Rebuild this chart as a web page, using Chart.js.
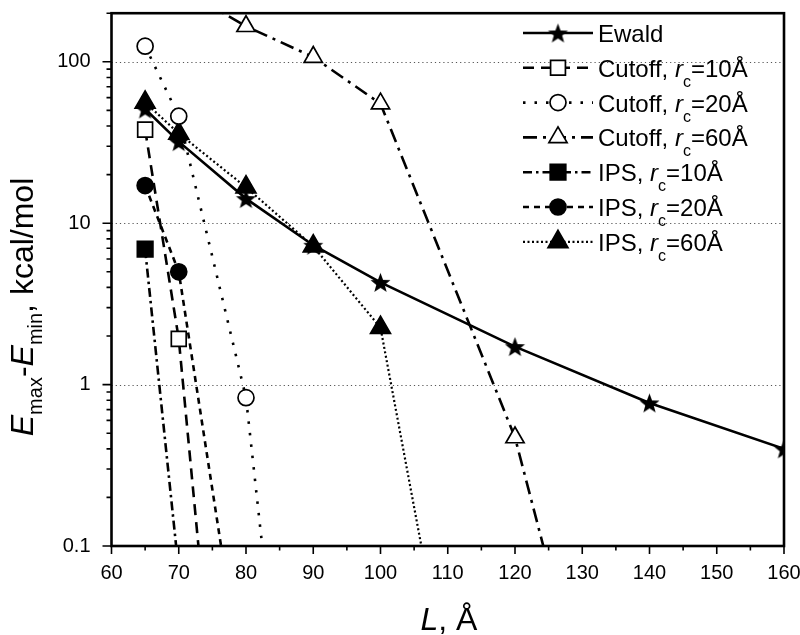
<!DOCTYPE html>
<html>
<head>
<meta charset="utf-8">
<script src="https://cdn.jsdelivr.net/npm/chart.js@4"></script>
<style>
  html, body { margin: 0; padding: 0; background: #fff; }
  #wrap { width: 800px; height: 635px; }
</style>
</head>
<body>
<div id="wrap"><canvas id="grafico" width="800" height="635"></canvas></div>
<script>
const FONTE = '"Liberation Sans", Arial, Helvetica, sans-serif';

/* ── Eixos ── */
const xTicks = [60, 70, 80, 90, 100, 110, 120, 130, 140, 150, 160];
const yTicks = [0.1, 1, 10, 100];

/* ── Séries (L em Å, Emax-Emin em kcal/mol) ── */
const ewaldL = [65, 70, 80, 90, 100, 120, 140, 160];
const ewaldE = [51, 32, 14.2, 7.3, 4.3, 1.72, 0.77, 0.40];

const cut10L = [65, 70, 80];
const cut10E = [38, 1.92, 0.00008];

const cut20L = [65, 70, 80, 90];
const cut20E = [125, 46, 0.83, 0.00013];

const cut60L = [70, 80, 90, 100, 120, 140];
const cut60E = [290, 166, 107, 55, 0.47, 0.0003];

const ips10L = [65, 70];
const ips10E = [6.9, 0.07];

const ips20L = [65, 70, 80];
const ips20E = [17.1, 5.0, 0.01];

const ips60L = [65, 70, 80, 90, 100, 120];
const ips60E = [56, 36, 16.7, 7.2, 2.25, 0.00008];

const nomes = ['Ewald', 'Cutoff', 'Cutoff', 'Cutoff', 'IPS', 'IPS', 'IPS'];
const raiosCorte = [null, '10', '20', '60', '10', '20', '60'];

function criarEstrela(r) {
  const c = document.createElement('canvas');
  const s = Math.ceil(r * 2 + 2);
  c.width = s; c.height = s;
  const g = c.getContext('2d');
  g.translate(s / 2, s / 2 + r * 0.1);
  g.beginPath();
  for (let i = 0; i < 10; i++) {
    const rr = i % 2 === 0 ? r : r * 0.42;
    const a = -Math.PI / 2 + i * Math.PI / 5;
    g.lineTo(rr * Math.cos(a), rr * Math.sin(a));
  }
  g.closePath();
  g.fillStyle = '#000';
  g.fill();
  return c;
}
const estrela = criarEstrela(10.5);

function serie(label, L, E, estilo, raio, cheio, dash, larg) {
  return {
    label,
    data: L.map((x, i) => ({ x, y: E[i] })),
    borderColor: '#000',
    borderWidth: larg,
    borderDash: dash,
    pointStyle: estilo,
    pointRadius: raio,
    pointHoverRadius: raio,
    pointBackgroundColor: cheio ? '#000' : '#fff',
    pointBorderColor: '#000',
    pointBorderWidth: 1.7,
    tension: 0,
    fill: false,
    clip: 0
  };
}

const datasets = [
  serie('Ewald', ewaldL, ewaldE, estrela, 10, true, [], 2.6),
  serie('Cutoff 10', cut10L, cut10E, 'rect', 10.5, false, [11, 7], 2.6),
  serie('Cutoff 20', cut20L, cut20E, 'circle', 8, false, [2.5, 9], 2.6),
  serie('Cutoff 60', cut60L, cut60E, 'triangle', 10.5, false, [14, 6, 3, 6], 2.6),
  serie('IPS 10', ips10L, ips10E, 'rect', 11, true, [9, 4, 2.5, 4], 2.6),
  serie('IPS 20', ips20L, ips20E, 'circle', 8, true, [6, 5], 2.6),
  serie('IPS 60', ips60L, ips60E, 'triangle', 11.5, true, [2, 2.5], 2.2)
];

/* ── Texto com itálico / subscrito ── */
function desenharPartes(ctx, partes, x, y, tam, tamSub, desloc) {
  let cx = x;
  for (const p of partes) {
    const t = p.sub ? tamSub : tam;
    ctx.font = (p.it ? 'italic ' : '') + t + 'px ' + FONTE;
    ctx.fillText(p.t, cx, y + (p.sub ? desloc : 0));
    cx += ctx.measureText(p.t).width;
  }
  return cx - x;
}
function larguraPartes(ctx, partes, tam, tamSub) {
  let w = 0;
  for (const p of partes) {
    ctx.font = (p.it ? 'italic ' : '') + (p.sub ? tamSub : tam) + 'px ' + FONTE;
    w += ctx.measureText(p.t).width;
  }
  return w;
}

function semPadding(s) {
  s.paddingTop = 0; s.paddingBottom = 0;
  s.paddingLeft = 0; s.paddingRight = 0;
}

const moldura = {
  id: 'moldura',
  beforeDatasetsDraw(chart) {
    const { ctx, chartArea: a, scales: { y } } = chart;
    ctx.save();
    ctx.strokeStyle = '#555';
    ctx.lineWidth = 1;
    ctx.setLineDash([1.2, 3]);
    yTicks.slice(1).forEach(v => {
      const py = Math.round(y.getPixelForValue(v)) + 0.5;
      ctx.beginPath();
      ctx.moveTo(a.left, py);
      ctx.lineTo(a.right, py);
      ctx.stroke();
    });
    ctx.restore();
  },
  afterDatasetsDraw(chart) {
    const { ctx, chartArea: a, scales: { x, y } } = chart;
    ctx.save();
    ctx.strokeStyle = '#000';
    ctx.setLineDash([]);
    ctx.lineWidth = 2.6;
    ctx.strokeRect(a.left, a.top, a.right - a.left, a.bottom - a.top);

    ctx.lineWidth = 1.6;
    ctx.beginPath();
    for (let v = 60; v <= 160; v += 5) {
      const px = x.getPixelForValue(v);
      const len = v % 10 === 0 ? 8 : 4.5;
      ctx.moveTo(px, a.bottom);
      ctx.lineTo(px, a.bottom + len);
    }
    for (let d = 0.1; d < 200; d *= 10) {
      for (let k = 1; k <= 9; k++) {
        const v = d * k;
        if (v > 200) break;
        const py = y.getPixelForValue(v);
        const len = k === 1 ? 9 : 5;
        ctx.moveTo(a.left, py);
        ctx.lineTo(a.left - len, py);
      }
    }
    ctx.stroke();
    ctx.restore();
  },
  afterDraw(chart) {
    const { ctx } = chart;
    ctx.save();
    ctx.fillStyle = '#000';
    ctx.textBaseline = 'alphabetic';
    ctx.textAlign = 'left';

    /* legenda */
    const y0 = 33, passo = 34.8;
    chart.data.datasets.forEach((ds, i) => {
      const ly = y0 + i * passo;
      ctx.save();
      ctx.strokeStyle = '#000';
      ctx.lineWidth = ds.borderWidth;
      ctx.setLineDash(ds.borderDash);
      ctx.beginPath();
      ctx.moveTo(523, ly);
      ctx.lineTo(593, ly);
      ctx.stroke();
      ctx.setLineDash([]);
      ctx.fillStyle = ds.pointBackgroundColor;
      ctx.strokeStyle = '#000';
      ctx.lineWidth = ds.pointBorderWidth;
      Chart.helpers.drawPoint(ctx, {
        pointStyle: ds.pointStyle, radius: ds.pointRadius,
        borderWidth: ds.pointBorderWidth, rotation: 0
      }, 558, ly);
      ctx.restore();

      const partes = [{ t: nomes[i] }];
      if (raiosCorte[i]) {
        partes.push({ t: ', ' }, { t: 'r', it: true }, { t: 'c', sub: true },
                    { t: '=' + raiosCorte[i] + 'Å' });
      }
      desenharPartes(ctx, partes, 598, ly + 9, 24, 16, 10);
    });

    /* título eixo x */
    const tx = [{ t: 'L', it: true }, { t: ', Å' }];
    const wx = larguraPartes(ctx, tx, 32, 20);
    desenharPartes(ctx, tx, 449 - wx / 2, 630, 32, 20, 0);

    /* título eixo y */
    const ty = [
      { t: 'E', it: true }, { t: 'max', sub: true }, { t: '-' },
      { t: 'E', it: true }, { t: 'min', sub: true }, { t: ', kcal/mol' }
    ];
    const wy = larguraPartes(ctx, ty, 32, 20);
    ctx.translate(33, 307);
    ctx.rotate(-Math.PI / 2);
    desenharPartes(ctx, ty, -wy / 2, 0, 32, 20, 9);
    ctx.restore();
  }
};

new Chart(document.getElementById('grafico'), {
  type: 'line',
  data: { datasets },
  options: {
    responsive: false,
    animation: false,
    devicePixelRatio: 1,
    layout: { padding: { left: 0, right: 16, top: 2.5, bottom: 0 } },
    plugins: {
      legend: { display: false },
      tooltip: { enabled: false }
    },
    scales: {
      x: {
        type: 'linear',
        min: 60, max: 160,
        afterBuildTicks: s => { s.ticks = xTicks.map(v => ({ value: v })); },
        afterFit: s => { s.height = 89; semPadding(s); },
        ticks: {
          color: '#000', font: { family: FONTE, size: 20 },
          padding: 15, maxRotation: 0, autoSkip: false
        },
        grid: { display: false, drawTicks: false },
        border: { display: false }
      },
      y: {
        type: 'logarithmic',
        min: 0.1, max: 200,
        afterBuildTicks: s => { s.ticks = yTicks.map(v => ({ value: v })); },
        afterFit: s => { s.width = 111.5; semPadding(s); },
        ticks: {
          color: '#000', font: { family: FONTE, size: 20 },
          padding: 21, autoSkip: false,
          callback: v => String(v)
        },
        grid: { display: false, drawTicks: false },
        border: { display: false }
      }
    }
  },
  plugins: [moldura]
});
</script>
</body>
</html>
